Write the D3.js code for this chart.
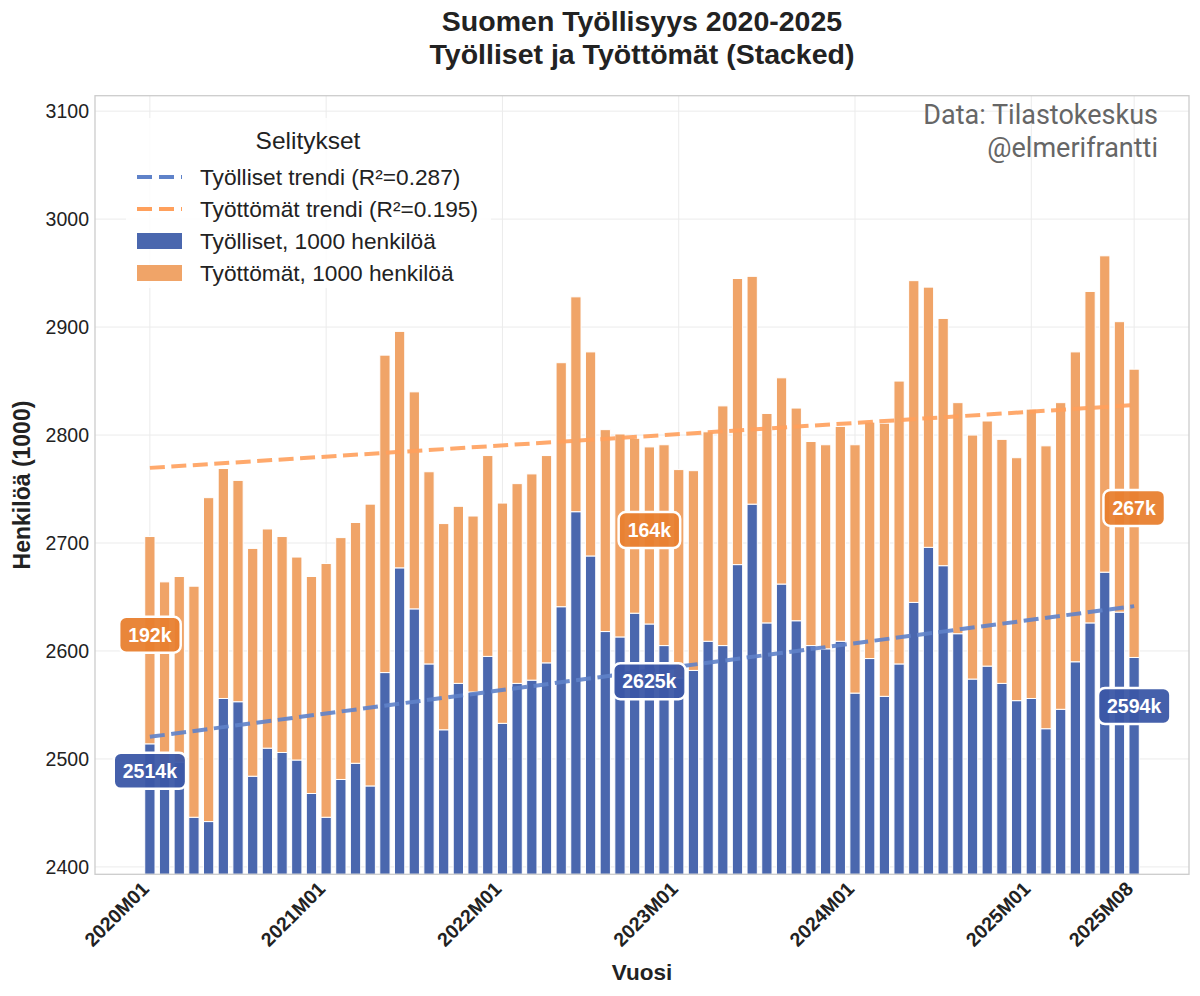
<!DOCTYPE html>
<html>
<head>
<meta charset="utf-8">
<script src="https://cdnjs.cloudflare.com/ajax/libs/d3/7.8.5/d3.min.js"></script>
<style>
  body { margin: 0; background: #fff; }
  svg { font-family: "Liberation Sans", Arial, sans-serif; }
</style>
</head>
<body>
<div id="chart"></div>
<script>
// Months 2020M01 .. 2025M08
var years = [2020, 2021, 2022, 2023, 2024, 2025];
var months = [];
years.forEach(function(y) {
    for (var m = 1; m <= 12; m++) {
        if (y === 2025 && m > 8) break;
        months.push(y + "M" + (m < 10 ? "0" + m : m));
    }
});

// Työlliset, 1000 henkilöä
var employed = [
    2514, 2490, 2497, 2446, 2442, 2556, 2553, 2484, 2510, 2506, 2499, 2468,
    2446, 2481, 2496, 2475, 2580, 2677, 2639, 2588, 2527, 2570, 2562, 2595,
    2533, 2570, 2573, 2589, 2641, 2729, 2688, 2618, 2613, 2635, 2625, 2605,
    2575, 2582, 2609, 2605, 2680, 2736, 2626, 2662, 2628, 2605, 2602, 2609,
    2561, 2593, 2558, 2588, 2645, 2696, 2679, 2616, 2574, 2586, 2570, 2554,
    2556, 2528, 2546, 2590, 2626, 2673, 2636, 2594
];

// Työttömät, 1000 henkilöä
var unemployed = [
    192, 174, 172, 214, 300, 213, 205, 211, 203, 200, 188, 201,
    235, 224, 223, 261, 294, 219, 201, 178, 191, 164, 163, 186,
    204, 185, 191, 192, 226, 199, 189, 187, 188, 162, 164, 186,
    193, 185, 194, 222, 265, 211, 194, 191, 197, 189, 189, 199,
    230, 219, 253, 262, 298, 241, 229, 214, 226, 227, 226, 225,
    268, 262, 284, 287, 307, 293, 269, 267
];

var xTickIdx = [0, 12, 24, 36, 48, 60, 67];
var yTicks = [2400, 2500, 2600, 2700, 2800, 2900, 3000, 3100];
var legendLabels = [
    "Työlliset trendi (R²=0.287)",
    "Työttömät trendi (R²=0.195)",
    "Työlliset, 1000 henkilöä",
    "Työttömät, 1000 henkilöä"
];
var annotIdx = [0, 34, 67];
var blueLabelShift = [-25, -53, -45]; // label moved below bar top (1000 henkilöä)

var colEmp = "#4a67ae", colUnemp = "#f0a468";
var colEmpLbl = "#3b57a6", colUnempLbl = "#e8802f";
var colEmpTrend = "#5f82c9", colUnempTrend = "#ffa05c";

function init() {
    var W = 1200, H = 996;
    var left = 95, right = 1189, top = 95.7, bottom = 874.3;
    var n = months.length;
    var totals = employed.map(function(d, i) { return d + unemployed[i]; });

    var svg = d3.select("#chart").append("svg")
        .attr("width", W).attr("height", H);

    var xScale = d3.scaleLinear()
        .domain([-0.35 - 0.05 * (n - 1 + 0.7), n - 1 + 0.35 + 0.05 * (n - 1 + 0.7)])
        .range([left, right]);
    var yScale = d3.scaleLinear()
        .domain([d3.min(employed) * 0.98, d3.max(totals) * 1.05])
        .range([bottom, top]);

    // grid
    svg.append("g").selectAll("line.hg").data(yTicks).enter().append("line")
        .attr("x1", left).attr("x2", right)
        .attr("y1", function(d) { return yScale(d); })
        .attr("y2", function(d) { return yScale(d); })
        .attr("stroke", "#ebebeb").attr("stroke-width", 1);
    svg.append("g").selectAll("line.vg").data(xTickIdx).enter().append("line")
        .attr("y1", top).attr("y2", bottom)
        .attr("x1", function(d) { return xScale(d); })
        .attr("x2", function(d) { return xScale(d); })
        .attr("stroke", "#ebebeb").attr("stroke-width", 1);

    // stacked bars
    var bw = xScale(0.7) - xScale(0);
    var bars = svg.append("g");
    bars.selectAll("rect.emp").data(employed).enter().append("rect")
        .attr("x", function(d, i) { return xScale(i) - bw / 2; })
        .attr("width", bw)
        .attr("y", function(d) { return yScale(d); })
        .attr("height", function(d) { return bottom - yScale(d); })
        .attr("fill", colEmp).attr("stroke", "#fff").attr("stroke-width", 1);
    bars.selectAll("rect.unemp").data(unemployed).enter().append("rect")
        .attr("x", function(d, i) { return xScale(i) - bw / 2; })
        .attr("width", bw)
        .attr("y", function(d, i) { return yScale(totals[i]); })
        .attr("height", function(d, i) { return yScale(employed[i]) - yScale(totals[i]); })
        .attr("fill", colUnemp).attr("stroke", "#fff").attr("stroke-width", 1);

    // linear trends (unemployment trend drawn on top of the mean employment level)
    function fit(vals) {
        var xm = d3.mean(vals, function(d, i) { return i; });
        var ym = d3.mean(vals);
        var sxy = 0, sxx = 0;
        vals.forEach(function(v, i) { sxy += (i - xm) * (v - ym); sxx += (i - xm) * (i - xm); });
        var b = sxy / sxx;
        return function(i) { return ym + b * (i - xm); };
    }
    var fe = fit(employed), fu = fit(unemployed), empMean = d3.mean(employed);
    var line = d3.line().x(function(d) { return xScale(d[0]); }).y(function(d) { return yScale(d[1]); });
    svg.append("path")
        .attr("d", line([[0, empMean + fu(0)], [n - 1, empMean + fu(n - 1)]]))
        .attr("stroke", colUnempTrend).attr("stroke-width", 4).attr("fill", "none")
        .attr("stroke-dasharray", "15,6.5").attr("opacity", 0.9);
    svg.append("path")
        .attr("d", line([[0, fe(0)], [n - 1, fe(n - 1)]]))
        .attr("stroke", colEmpTrend).attr("stroke-width", 4).attr("fill", "none")
        .attr("stroke-dasharray", "15,6.5").attr("opacity", 0.9);

    // value labels
    function badge(x, y, txt, fill) {
        var g = svg.append("g");
        var t = g.append("text").attr("x", x).attr("y", y).attr("dy", "0.35em")
            .attr("text-anchor", "middle").attr("fill", "#fff")
            .attr("font-weight", "bold").attr("font-size", 19.5).text(txt);
        var bb = t.node().getBBox();
        g.insert("rect", "text")
            .attr("x", bb.x - 9).attr("y", y - 18)
            .attr("width", bb.width + 18).attr("height", 36)
            .attr("rx", 7).attr("fill", fill).attr("fill-opacity", 0.95)
            .attr("stroke", "#fff").attr("stroke-width", 2.5);
    }
    annotIdx.forEach(function(i, k) {
        badge(xScale(i), yScale(employed[i] + unemployed[i] / 2 + 5), unemployed[i] + "k", colUnempLbl);
        badge(xScale(i), yScale(employed[i] + blueLabelShift[k]), employed[i] + "k", colEmpLbl);
    });

    // axes
    var yAxis = d3.axisLeft(yScale).tickValues(yTicks).tickSize(0).tickPadding(6)
        .tickFormat(d3.format("d"));
    var gy = svg.append("g").attr("transform", "translate(" + left + ",0)").call(yAxis);
    gy.select(".domain").remove();
    gy.selectAll("text").attr("font-size", 19.5).attr("fill", "#222")
        .attr("font-family", "Liberation Sans, Arial, sans-serif");

    var xAxis = d3.axisBottom(xScale).tickValues(xTickIdx).tickSize(0)
        .tickFormat(function(d) { return months[d]; });
    var gx = svg.append("g").attr("transform", "translate(0," + bottom + ")").call(xAxis);
    gx.select(".domain").remove();
    gx.selectAll("text")
        .attr("font-size", 19.5).attr("font-weight", "bold").attr("fill", "#222")
        .attr("font-family", "Liberation Sans, Arial, sans-serif")
        .attr("text-anchor", "end")
        .attr("transform", "translate(-5,11) rotate(-45)")
        .attr("dy", "0.35em").attr("y", 0).attr("x", 0);

    // frame
    svg.append("rect").attr("x", left).attr("y", top)
        .attr("width", right - left).attr("height", bottom - top)
        .attr("fill", "none").attr("stroke", "#cccccc").attr("stroke-width", 1.3);

    // legend
    var lg = svg.append("g");
    lg.append("rect").attr("x", 126).attr("y", 118).attr("width", 365).attr("height", 170)
        .attr("fill", "#fff").attr("opacity", 0.85);
    lg.append("text").attr("x", 308).attr("y", 149).attr("text-anchor", "middle")
        .attr("font-size", 24.5).attr("fill", "#222").text("Selitykset");
    var rowsY = [177, 209, 241, 273];
    legendLabels.forEach(function(lbl, k) {
        var yy = rowsY[k];
        if (k < 2) {
            lg.append("line").attr("x1", 137).attr("x2", 182).attr("y1", yy).attr("y2", yy)
                .attr("stroke", k === 0 ? colEmpTrend : colUnempTrend)
                .attr("stroke-width", 4).attr("stroke-dasharray", "15,7");
        } else {
            lg.append("rect").attr("x", 137).attr("y", yy - 8).attr("width", 45).attr("height", 16)
                .attr("fill", k === 2 ? colEmp : colUnemp);
        }
        lg.append("text").attr("x", 200).attr("y", yy).attr("dy", "0.35em")
            .attr("font-size", 22.7).attr("fill", "#222").text(lbl);
    });

    // source
    svg.append("text").attr("x", 1158).attr("y", 124).attr("text-anchor", "end")
        .attr("font-family", "Roboto, sans-serif").attr("font-size", 27).attr("fill", "#666")
        .text("Data: Tilastokeskus");
    svg.append("text").attr("x", 1158).attr("y", 157).attr("text-anchor", "end")
        .attr("font-family", "Roboto, sans-serif").attr("font-size", 27).attr("fill", "#666")
        .text("@elmerifrantti");

    // titles
    svg.append("text").attr("x", 642).attr("y", 31).attr("text-anchor", "middle")
        .attr("font-size", 28.5).attr("font-weight", "bold").attr("fill", "#222")
        .text("Suomen Työllisyys 2020-2025");
    svg.append("text").attr("x", 642).attr("y", 64).attr("text-anchor", "middle")
        .attr("font-size", 28.5).attr("font-weight", "bold").attr("fill", "#222")
        .text("Työlliset ja Työttömät (Stacked)");
    svg.append("text").attr("x", 642).attr("y", 980).attr("text-anchor", "middle")
        .attr("font-size", 22.5).attr("font-weight", "bold").attr("fill", "#222")
        .text("Vuosi");
    svg.append("text").attr("transform", "translate(30," + ((top + bottom) / 2) + ") rotate(-90)")
        .attr("text-anchor", "middle")
        .attr("font-size", 23).attr("font-weight", "bold").attr("fill", "#222")
        .text("Henkilöä (1000)");
}

window.onload = init;
</script>
</body>
</html>
